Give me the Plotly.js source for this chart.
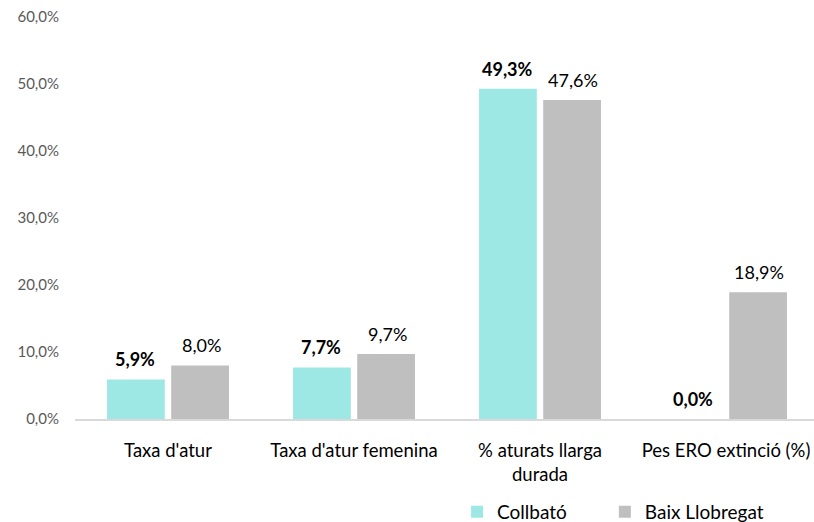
<!DOCTYPE html>
<html><head><meta charset="utf-8">
<script src="https://cdn.plot.ly/plotly-3.0.1.min.js"></script>
<style>body{margin:0;background:#fff}#c{width:814px;height:522px}</style>
</head><body><div id="c"></div>
<script>
const categories = ["Taxa d'atur", "Taxa d'atur femenina", "% aturats llarga<br>durada", "Pes ERO extinció (%)"];
const collbato = [5.9, 7.7, 49.3, 0.0];
const baix = [8.0, 9.7, 47.6, 18.9];
const yTicks = [0, 10, 20, 30, 40, 50, 60];
const yTickText = yTicks.map(v => v.toFixed(1).replace('.', ',') + '%');
const FONT = "Lato, 'Open Sans', sans-serif";
const fmt = v => v.toFixed(1).replace('.', ',') + '%';

const traces = [
  {type:'bar', name:'Collbató', x:categories, y:collbato, marker:{color:'#9DE8E4'}, hoverinfo:'none', legend:'legend'},
  {type:'bar', name:'Baix Llobregat', x:categories, y:baix, marker:{color:'#BFBFBF'}, hoverinfo:'none', legend:'legend2'}
];
const annotations = [];
categories.forEach((c, j) => {
  annotations.push({x:c, y:collbato[j], xref:'x', yref:'y', text:'<b>' + fmt(collbato[j]) + '</b>',
    showarrow:false, yanchor:'bottom', xshift:-33, yshift:7, font:{family:FONT, size:18, color:'#000'}});
  annotations.push({x:c, y:baix[j], xref:'x', yref:'y', text:fmt(baix[j]),
    showarrow:false, yanchor:'bottom', xshift:33, yshift:7, font:{family:FONT, size:18, color:'#000'}});
});
const legendBase = {orientation:'h', y:-0.231, xanchor:'left', yanchor:'middle', font:{size:19, color:'#000'}};
const layout = {
  width:814, height:522, paper_bgcolor:'#fff', plot_bgcolor:'#fff',
  separators:',.',
  margin:{l:75, r:0, t:17, b:103, autoexpand:false},
  font:{family:FONT, size:18, color:'#000'},
  bargap:0.31, bargroupgap:0.1,
  showlegend:true,
  annotations:annotations,
  legend:Object.assign({x:0.517}, legendBase),
  legend2:Object.assign({x:0.717}, legendBase),
  xaxis:{type:'category', range:[-0.5, 3.473], showline:true, linecolor:'#D9D9D9', linewidth:1.5,
         ticks:'', tickfont:{size:18.5, color:'#000'}, showgrid:false, ticklabelstandoff:14},
  yaxis:{range:[0,60], tickvals:yTicks, ticktext:yTickText, showgrid:false, zeroline:false,
         showline:false, ticks:'', tickfont:{size:15, color:'#595959'}, ticklabelstandoff:15}
};
Plotly.newPlot('c', traces, layout, {displayModeBar:false, staticPlot:true});
</script></body></html>
